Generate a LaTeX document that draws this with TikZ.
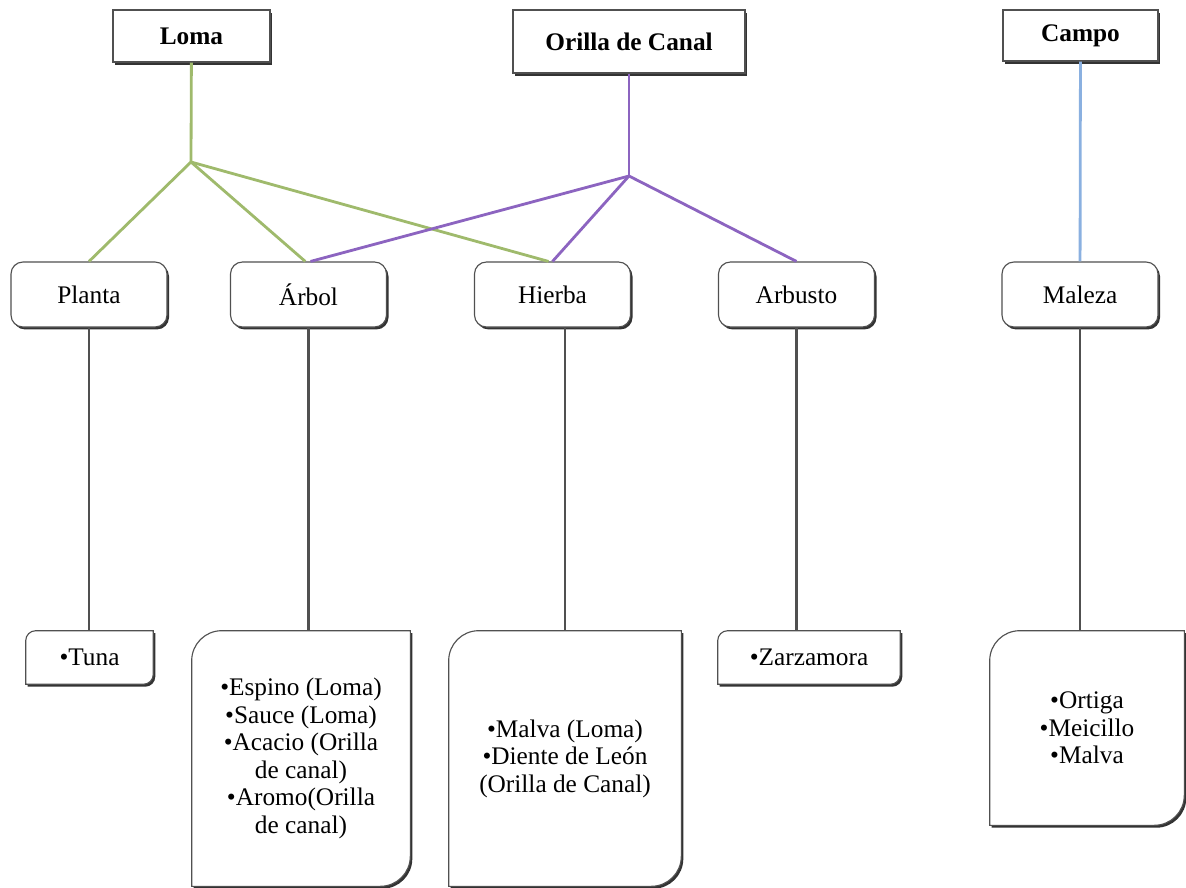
\documentclass[tikz,border=0pt]{standalone}
\usepackage{fontspec}
\setmainfont{Liberation Serif}
\usetikzlibrary{shadows,backgrounds}
\definecolor{lomaG}{HTML}{9FBA6C}
\definecolor{canalP}{HTML}{8C64C0}
\definecolor{campoB}{HTML}{8AB0E0}
\definecolor{edge}{HTML}{505050}
% box with rounded top-left and bottom-right corners
\newcommand{\leafedge}[2]{%
  \filldraw[leaf] (#1.south west) -- ([yshift=-#2]#1.north west)
    arc[start angle=180, end angle=90, radius=#2] -- (#1.north east)
    -- ([yshift=#2]#1.south east)
    arc[start angle=0, end angle=-90, radius=#2] -- cycle;}

\begin{document}
\begin{tikzpicture}[x=0.025cm, y=0.025cm,
      font=\fontsize{18}{19.6}\selectfont,
      place/.style={draw=edge, line width=0.8pt, fill=white, inner sep=0pt,
        font=\fontsize{18}{19.6}\selectfont\bfseries,
        drop shadow={shadow xshift=0.06cm, shadow yshift=-0.07cm,
          fill=black!80, opacity=1}},
      kind/.style={draw=edge, line width=0.8pt, fill=white, rounded corners=0.3cm,
        minimum width=3.9cm, minimum height=1.625cm, inner sep=0pt,
        drop shadow={shadow xshift=0.05cm, shadow yshift=-0.06cm,
          fill=black!80, opacity=1}},
      list/.style={inner sep=0pt, align=center},
      leaf/.style={draw=edge, line width=0.8pt, fill=white,
        drop shadow={shadow xshift=0.05cm, shadow yshift=-0.06cm,
          fill=black!80, opacity=1}},
      green/.style={lomaG, line width=2pt},
      purple/.style={canalP, line width=2pt},
      blue/.style={campoB, line width=2pt},
      stem/.style={edge, line width=2pt}]

    \useasboundingbox (0,0) rectangle (1186,-888);

    % places
    \node[place, minimum width=3.925cm, minimum height=1.3cm] (loma)
      at (191.5,-36) {Loma};
    \node[place, minimum width=5.8cm, minimum height=1.575cm] (canal)
      at (629,-41.5) {Orilla de Canal};
    \node[place, minimum width=3.875cm, minimum height=1.275cm] (campo)
      at (1080.5,-35.5) {Campo};

    % kinds of plant
    \node[kind] (planta) at (89,-294.5) {Planta};
    \node[kind] (arbol) at (308.5,-294.5) {Árbol};
    \node[kind] (hierba) at (552.5,-294.5) {Hierba};
    \node[kind] (arbusto) at (796.5,-294.5) {Arbusto};
    \node[kind] (maleza) at (1080,-294.5) {Maleza};

    % species
    \node[list, minimum width=3.175cm, minimum height=1.325cm] (tuna)
      at (89.5,-657.5) {•Tuna};
    \node[list, minimum width=5.45cm, minimum height=6.375cm] (arbolL)
      at (301,-758.5) {•Espino (Loma)\\•Sauce (Loma)\\•Acacio (Orilla\\
      de canal)\\•Aromo(Orilla\\de canal)};
    \node[list, minimum width=5.8cm, minimum height=6.375cm] (hierbaL)
      at (565,-758.5) {•Malva (Loma)\\•Diente de León\\(Orilla de Canal)};
    \node[list, minimum width=4.55cm, minimum height=1.325cm] (zarza)
      at (809,-657.5) {•Zarzamora};
    \node[list, minimum width=4.85cm, minimum height=4.85cm] (malezaL)
      at (1087,-728) {•Ortiga\\•Meicillo\\•Malva};

    \begin{scope}[on background layer]
      \leafedge{tuna}{0.25cm}
      \leafedge{arbolL}{0.75cm}
      \leafedge{hierbaL}{0.75cm}
      \leafedge{zarza}{0.25cm}
      \leafedge{malezaL}{0.75cm}
    \end{scope}

    \coordinate (jL) at (191,-162);
    \coordinate (jC) at (629,-176);

    \draw[green] (loma) -- (jL);
    \draw[green] (jL) -- (planta.north);
    \draw[green] (jL) -- ([xshift=-0.08cm]arbol.north);
    \draw[green] (jL) -- ([xshift=-0.1cm]hierba.north);

    \draw[purple] (canal) -- (jC);
    \draw[purple] (jC) -- ([xshift=0.05cm]arbol.north);
    \draw[purple] (jC) -- (hierba.north);
    \draw[purple] (jC) -- (arbusto.north);

    \draw[blue] (campo) -- (maleza);

    \foreach \a/\b in {planta/tuna, arbol/arbolL, arbusto/zarza, maleza/malezaL}
      {\draw[stem] (\a.south) -- (\a.south |- \b.north);}
    \draw[stem] (hierbaL.north |- hierba.south) -- (hierbaL.north);
  \end{tikzpicture}
\end{document}
